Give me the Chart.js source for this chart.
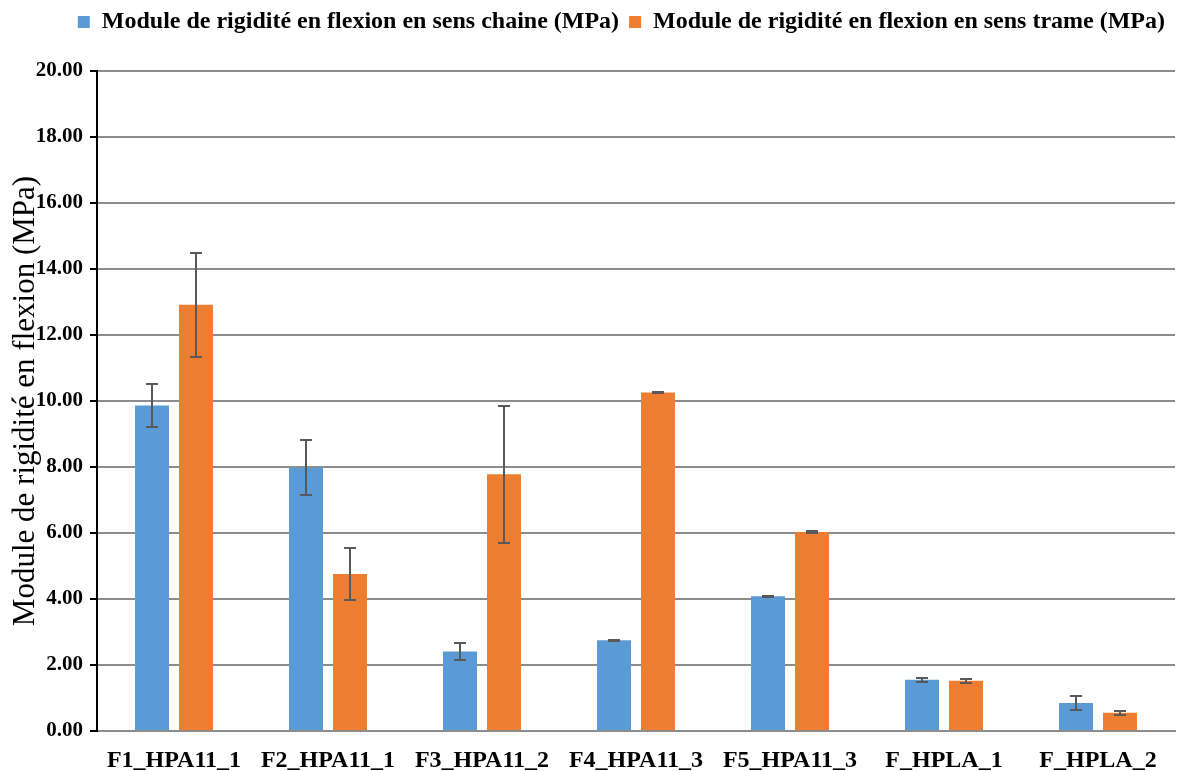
<!DOCTYPE html>
<html>
<head>
<meta charset="utf-8">
<script src="https://cdn.jsdelivr.net/npm/chart.js@4.4.1/dist/chart.umd.min.js"></script>
<style>
html, body { margin: 0; padding: 0; background: #fff; }
</style>
</head>
<body>
<canvas id="rigidityChart" width="1182" height="771"></canvas>
<script>
// values
var categories = ['F1_HPA11_1', 'F2_HPA11_1', 'F3_HPA11_2', 'F4_HPA11_3', 'F5_HPA11_3', 'F_HPLA_1', 'F_HPLA_2'];
var chaineValues = [9.86, 7.98, 2.41, 2.75, 4.08, 1.55, 0.85];
var chaineErrors = [0.66, 0.83, 0.27, 0.02, 0.02, 0.07, 0.22];
var trameValues = [12.92, 4.76, 7.78, 10.26, 6.03, 1.52, 0.55];
var trameErrors = [1.58, 0.79, 2.08, 0.02, 0.02, 0.06, 0.07];
var yTicks = [0, 2, 4, 6, 8, 10, 12, 14, 16, 18, 20];

var serif = '"Liberation Serif", "Times New Roman", serif';

// Excel-like error bars, drawn through the y scale
var errorBars = {
    id: 'errorBars',
    afterDatasetsDraw: function (chart) {
        var ctx = chart.ctx;
        var y = chart.scales.y;
        ctx.save();
        ctx.strokeStyle = '#595959';
        ctx.lineWidth = 2;
        chart.data.datasets.forEach(function (ds, i) {
            var meta = chart.getDatasetMeta(i);
            meta.data.forEach(function (bar, j) {
                var v = ds.data[j], e = ds.errors[j];
                var top = Math.round(y.getPixelForValue(v + e));
                var bot = Math.round(y.getPixelForValue(v - e));
                var x = Math.round(bar.x);
                ctx.beginPath();
                ctx.moveTo(x, top); ctx.lineTo(x, bot);
                ctx.moveTo(x - 6, top); ctx.lineTo(x + 6, top);
                ctx.moveTo(x - 6, bot); ctx.lineTo(x + 6, bot);
                ctx.stroke();
            });
        });
        ctx.restore();
    }
};

// y title drawn over the tick labels like in the original
var yTitle = {
    id: 'yTitle',
    afterDraw: function (chart) {
        var ctx = chart.ctx;
        var a = chart.chartArea;
        ctx.save();
        ctx.translate(26, (a.top + a.bottom) / 2);
        ctx.rotate(-Math.PI / 2);
        ctx.font = '31px ' + serif;
        ctx.fillStyle = '#000';
        ctx.textAlign = 'center';
        ctx.textBaseline = 'middle';
        ctx.fillText('Module de rigidité en flexion (MPa)', 0, 0);
        ctx.restore();
    }
};

var legendHeight = {
    id: 'legendHeight',
    beforeInit: function (chart) {
        var fit = chart.legend.fit;
        chart.legend.fit = function () {
            fit.apply(this, arguments);
            this.height = 71;
        };
    }
};

var ctx = document.getElementById('rigidityChart').getContext('2d');
var rigidityChart = new Chart(ctx, {
    type: 'bar',
    data: {
        labels: categories,
        datasets: [{
            label: 'Module de rigidité en flexion en sens chaine (MPa)',
            data: chaineValues,
            errors: chaineErrors,
            backgroundColor: '#5B9BD5'
        }, {
            label: 'Module de rigidité en flexion en sens trame (MPa)',
            data: trameValues,
            errors: trameErrors,
            backgroundColor: '#ED7D31'
        }]
    },
    options: {
        responsive: false,
        animation: false,
        layout: { padding: { left: 0, right: 7, top: 0, bottom: 0 } },
        datasets: {
            bar: { categoryPercentage: 0.571, barPercentage: 0.773 }
        },
        plugins: {
            legend: {
                position: 'top',
                align: 'end',
                labels: {
                    color: '#000',
                    font: { family: serif, size: 24, weight: 'bold' },
                    boxWidth: 12,
                    boxHeight: 12,
                    padding: 10
                }
            },
            tooltip: { enabled: false }
        },
        scales: {
            x: {
                grid: { display: false },
                border: { color: '#8c8c8c', width: 2 },
                ticks: {
                    color: '#000',
                    padding: 7,
                    maxRotation: 0,
                    font: { family: serif, size: 24, weight: 'bold' }
                },
                afterFit: function (s) { s.height = 40; }
            },
            y: {
                min: 0,
                max: 20,
                afterBuildTicks: function (s) {
                    s.ticks = yTicks.map(function (v) { return { value: v }; });
                },
                grid: { color: '#8c8c8c', lineWidth: 2, tickColor: '#000', tickLength: 7 },
                border: { color: '#000', width: 2 },
                ticks: {
                    color: '#000',
                    padding: 7,
                    font: { family: serif, size: 21, weight: 'bold' },
                    callback: function (v) { return Number(v).toFixed(2); }
                },
                afterFit: function (s) { s.width = 97; }
            }
        }
    },
    plugins: [errorBars, yTitle, legendHeight]
});
</script>
</body>
</html>
